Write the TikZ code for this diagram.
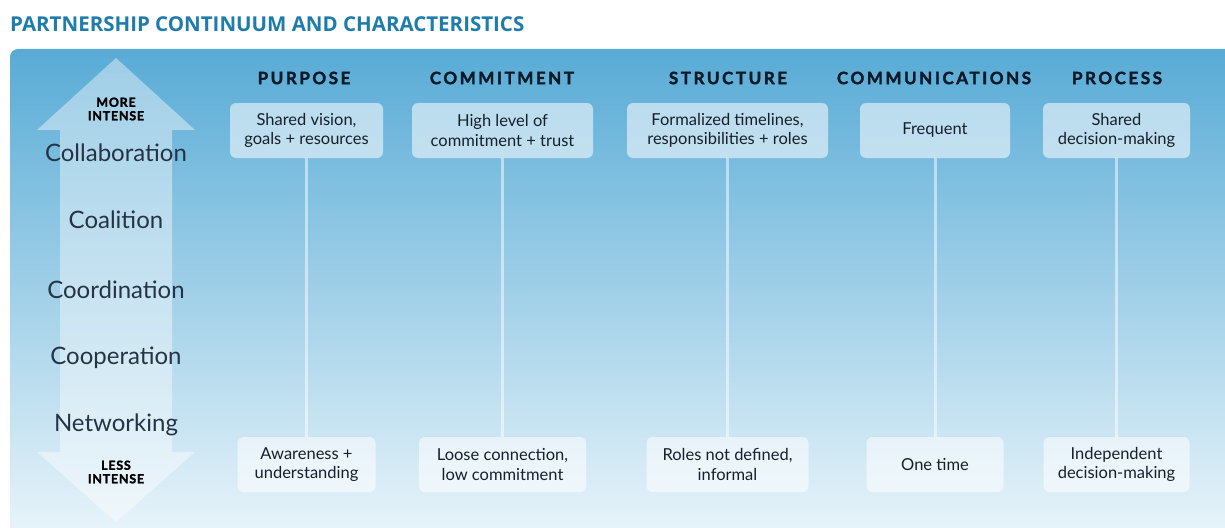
\documentclass[tikz,border=0pt]{standalone}
\usepackage{fontspec}
\setmainfont{Lato}
\newfontfamily\headfont{Lato}[LetterSpace=15, BoldFeatures={FakeBold=2}]
\newfontfamily\tagfont{Lato}[LetterSpace=6, BoldFeatures={FakeBold=2}]
\newfontfamily\titlefont{Open Sans}
\definecolor{paneltop}{RGB}{88,171,214}
\definecolor{panelbot}{RGB}{236,246,251}
\definecolor{titleblue}{RGB}{30,124,172}
\definecolor{headink}{RGB}{12,26,40}
\definecolor{bodyink}{RGB}{22,32,44}
\definecolor{levelink}{RGB}{36,52,68}
\tikzset{
  head/.style={font=\headfont\bfseries\fontsize{17}{18}\selectfont, text=headink, inner sep=0pt},
  cbox/.style={fill=white, fill opacity=0.55, text opacity=1, rounded corners=6pt,
    minimum height=55pt, inner sep=0pt, align=center, text=bodyink,
    font=\fontsize{16.5}{19.5}\selectfont},
  link/.style={draw=white, draw opacity=0.5, line width=3pt},
  level/.style={font=\fontsize{24}{26}\selectfont, text=levelink, inner sep=0pt},
  intense/.style={font=\tagfont\bfseries\fontsize{12.5}{13.5}\selectfont, text=black, align=center, inner sep=0pt}
}
\begin{document}
\begin{tikzpicture}[x=1pt, y=-1pt]
  \useasboundingbox (0,0) rectangle (1225,527);
  \fill[white] (0,0) rectangle (1225,527);

  % title
  \node[anchor=west, inner sep=0pt, text=titleblue, font=\titlefont\bfseries\fontsize{20.5}{22}\selectfont] (title) at (10,24) {PARTNERSHIP CONTINUUM AND CHARACTERISTICS};

  % background panel with gradient
  \shade[top color=paneltop, bottom color=panelbot, rounded corners=8pt] (10,49) rectangle (1245,545);

  % double-headed intensity arrow
  \fill[white, opacity=0.42] (116,58) -- (195,130) -- (172,130) -- (172,452) -- (195,452)
    -- (116,522) -- (37,452) -- (60,452) -- (60,130) -- (37,130) -- cycle;
  \node[intense] (more) at (116,109) {MORE\\INTENSE};
  \node[intense] (less) at (116,472) {LESS\\INTENSE};

  % partnership levels
  \node[level] (collab) at (116,153) {Collaboration};
  \node[level] (coal) at (116,220) {Coalition};
  \node[level] (coord) at (116,290) {Coordination};
  \node[level] (coop) at (116,358) {Cooperation};
  \node[level] (net) at (116,425) {Networking};

  % column headings
  \node[head] (hP) at (304,78) {PURPOSE};
  \node[head] (hC) at (502,78) {COMMITMENT};
  \node[head] (hS) at (728,78) {STRUCTURE};
  \node[head] (hM) at (934,78) {COMMUNICATIONS};
  \node[head] (hR) at (1117,78) {PROCESS};

  % characteristics at the intense end
  \node[cbox, minimum width=153pt] (tP) at (306.5,130.5) {Shared vision,\\goals + resources};
  \node[cbox, minimum width=181pt] (tC) at (502.5,130.5) {High level of\\commitment + trust};
  \node[cbox, minimum width=201pt] (tS) at (727.5,130.5) {Formalized timelines,\\responsibilities + roles};
  \node[cbox, minimum width=150pt] (tM) at (935,130.5) {Frequent};
  \node[cbox, minimum width=147pt] (tR) at (1116.5,130.5) {Shared\\decision-making};

  % characteristics at the less intense end
  \node[cbox, minimum width=138pt] (bP) at (306.5,464.5) {Awareness +\\understanding};
  \node[cbox, minimum width=167pt] (bC) at (502.5,464.5) {Loose connection,\\low commitment};
  \node[cbox, minimum width=162pt] (bS) at (727.5,464.5) {Roles not defined,\\informal};
  \node[cbox, minimum width=137pt] (bM) at (935,464.5) {One time};
  \node[cbox, minimum width=146pt] (bR) at (1116.5,464.5) {Independent\\decision-making};

  % connectors between the two ends
  \foreach \c in {P,C,S,M,R} {
    \draw[link] (t\c.south) -- (b\c.north);
  }
\end{tikzpicture}
\end{document}
